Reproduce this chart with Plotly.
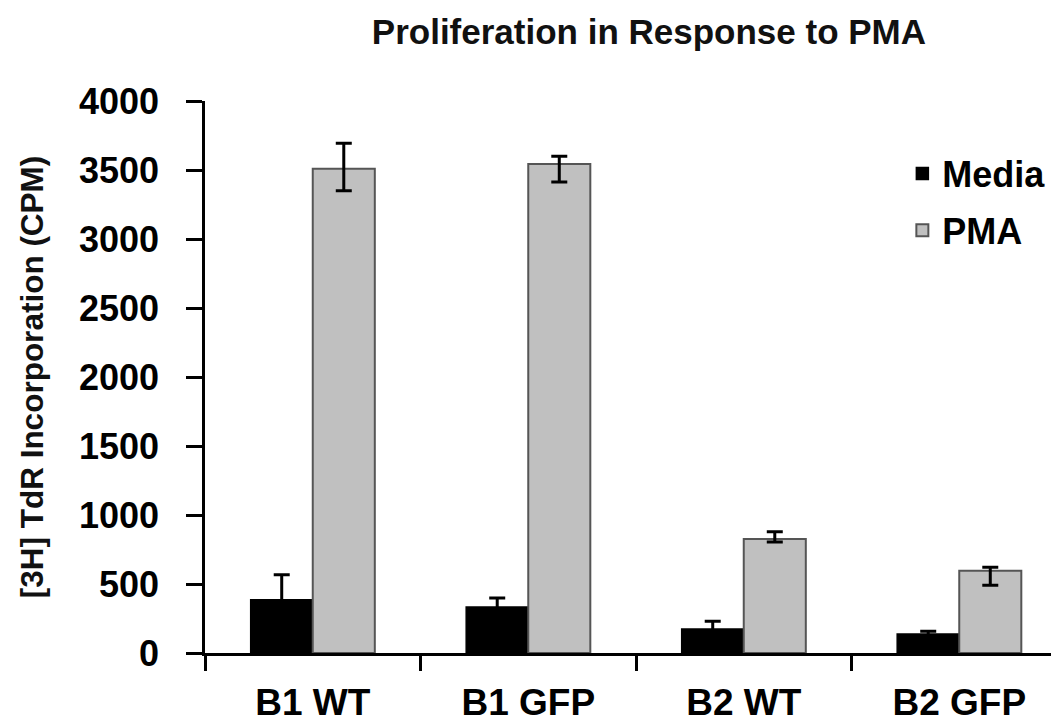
import plotly.graph_objects as go

categories = ["B1 WT", "B1 GFP", "B2 WT", "B2 GFP"]
media_values = [386, 333, 174, 138]
media_err = [181, 66, 56, 19]
pma_values = [3509, 3543, 826, 596]
pma_err_plus = [184, 56, 53, 25]
pma_err_minus = [159, 130, 22, 105]
y_ticks = [0, 500, 1000, 1500, 2000, 2500, 3000, 3500, 4000]

FONT = "Liberation Sans, Arial, Helvetica, sans-serif"

fig = go.Figure()
fig.add_trace(go.Bar(
    name="Media", x=categories, y=media_values,
    marker=dict(color="#000000", line=dict(color="#000000", width=1.5)),
    error_y=dict(type="data", array=media_err, visible=True,
                 color="#000000", thickness=3, width=8),
    legendgroup="m",
))
fig.add_trace(go.Bar(
    name="PMA", x=categories, y=pma_values,
    marker=dict(color="#c0c0c0", line=dict(color="#555555", width=2)),
    error_y=dict(type="data", symmetric=False, array=pma_err_plus,
                 arrayminus=pma_err_minus, visible=True,
                 color="#000000", thickness=3, width=8),
    legendgroup="p",
))

fig.update_layout(
    width=1059, height=724,
    paper_bgcolor="white", plot_bgcolor="white",
    margin=dict(l=197, r=0, t=93, b=79),
    barmode="group", bargap=0.424, bargroupgap=0,
    title=dict(text="Proliferation in Response to PMA",
               font=dict(family=FONT, size=35, color="#111", weight="bold"),
               x=0.515, xref="paper", xanchor="center",
               y=0.967, yref="container", yanchor="middle"),
    legend=dict(x=0.809, y=0.923, xanchor="left", yanchor="top",
                font=dict(family=FONT, size=36, color="#000", weight="bold"),
                bgcolor="rgba(0,0,0,0)", traceorder="grouped",
                tracegroupgap=7),
    showlegend=True,
)
fig.update_xaxes(
    showline=True, linecolor="#000", linewidth=2.5,
    ticks="outside", tickson="boundaries", ticklen=15, tickwidth=2.5,
    tickcolor="#000", showgrid=False,
    tickfont=dict(family=FONT, size=37, color="#000", weight="bold"),
    ticklabelstandoff=15,
)
fig.update_yaxes(
    range=[0, 4000], tickvals=y_ticks,
    showline=True, linecolor="#000", linewidth=2.5,
    ticks="outside", ticklen=16, tickwidth=2.5, tickcolor="#000",
    showgrid=False, zeroline=False,
    tickfont=dict(family=FONT, size=36, color="#000", weight="bold"),
    ticklabelstandoff=20,
    title=dict(text="[3H] TdR Incorporation (CPM)", standoff=26,
               font=dict(family=FONT, size=31.5, color="#111", weight="bold")),
)

fig.write_html("out.html")
